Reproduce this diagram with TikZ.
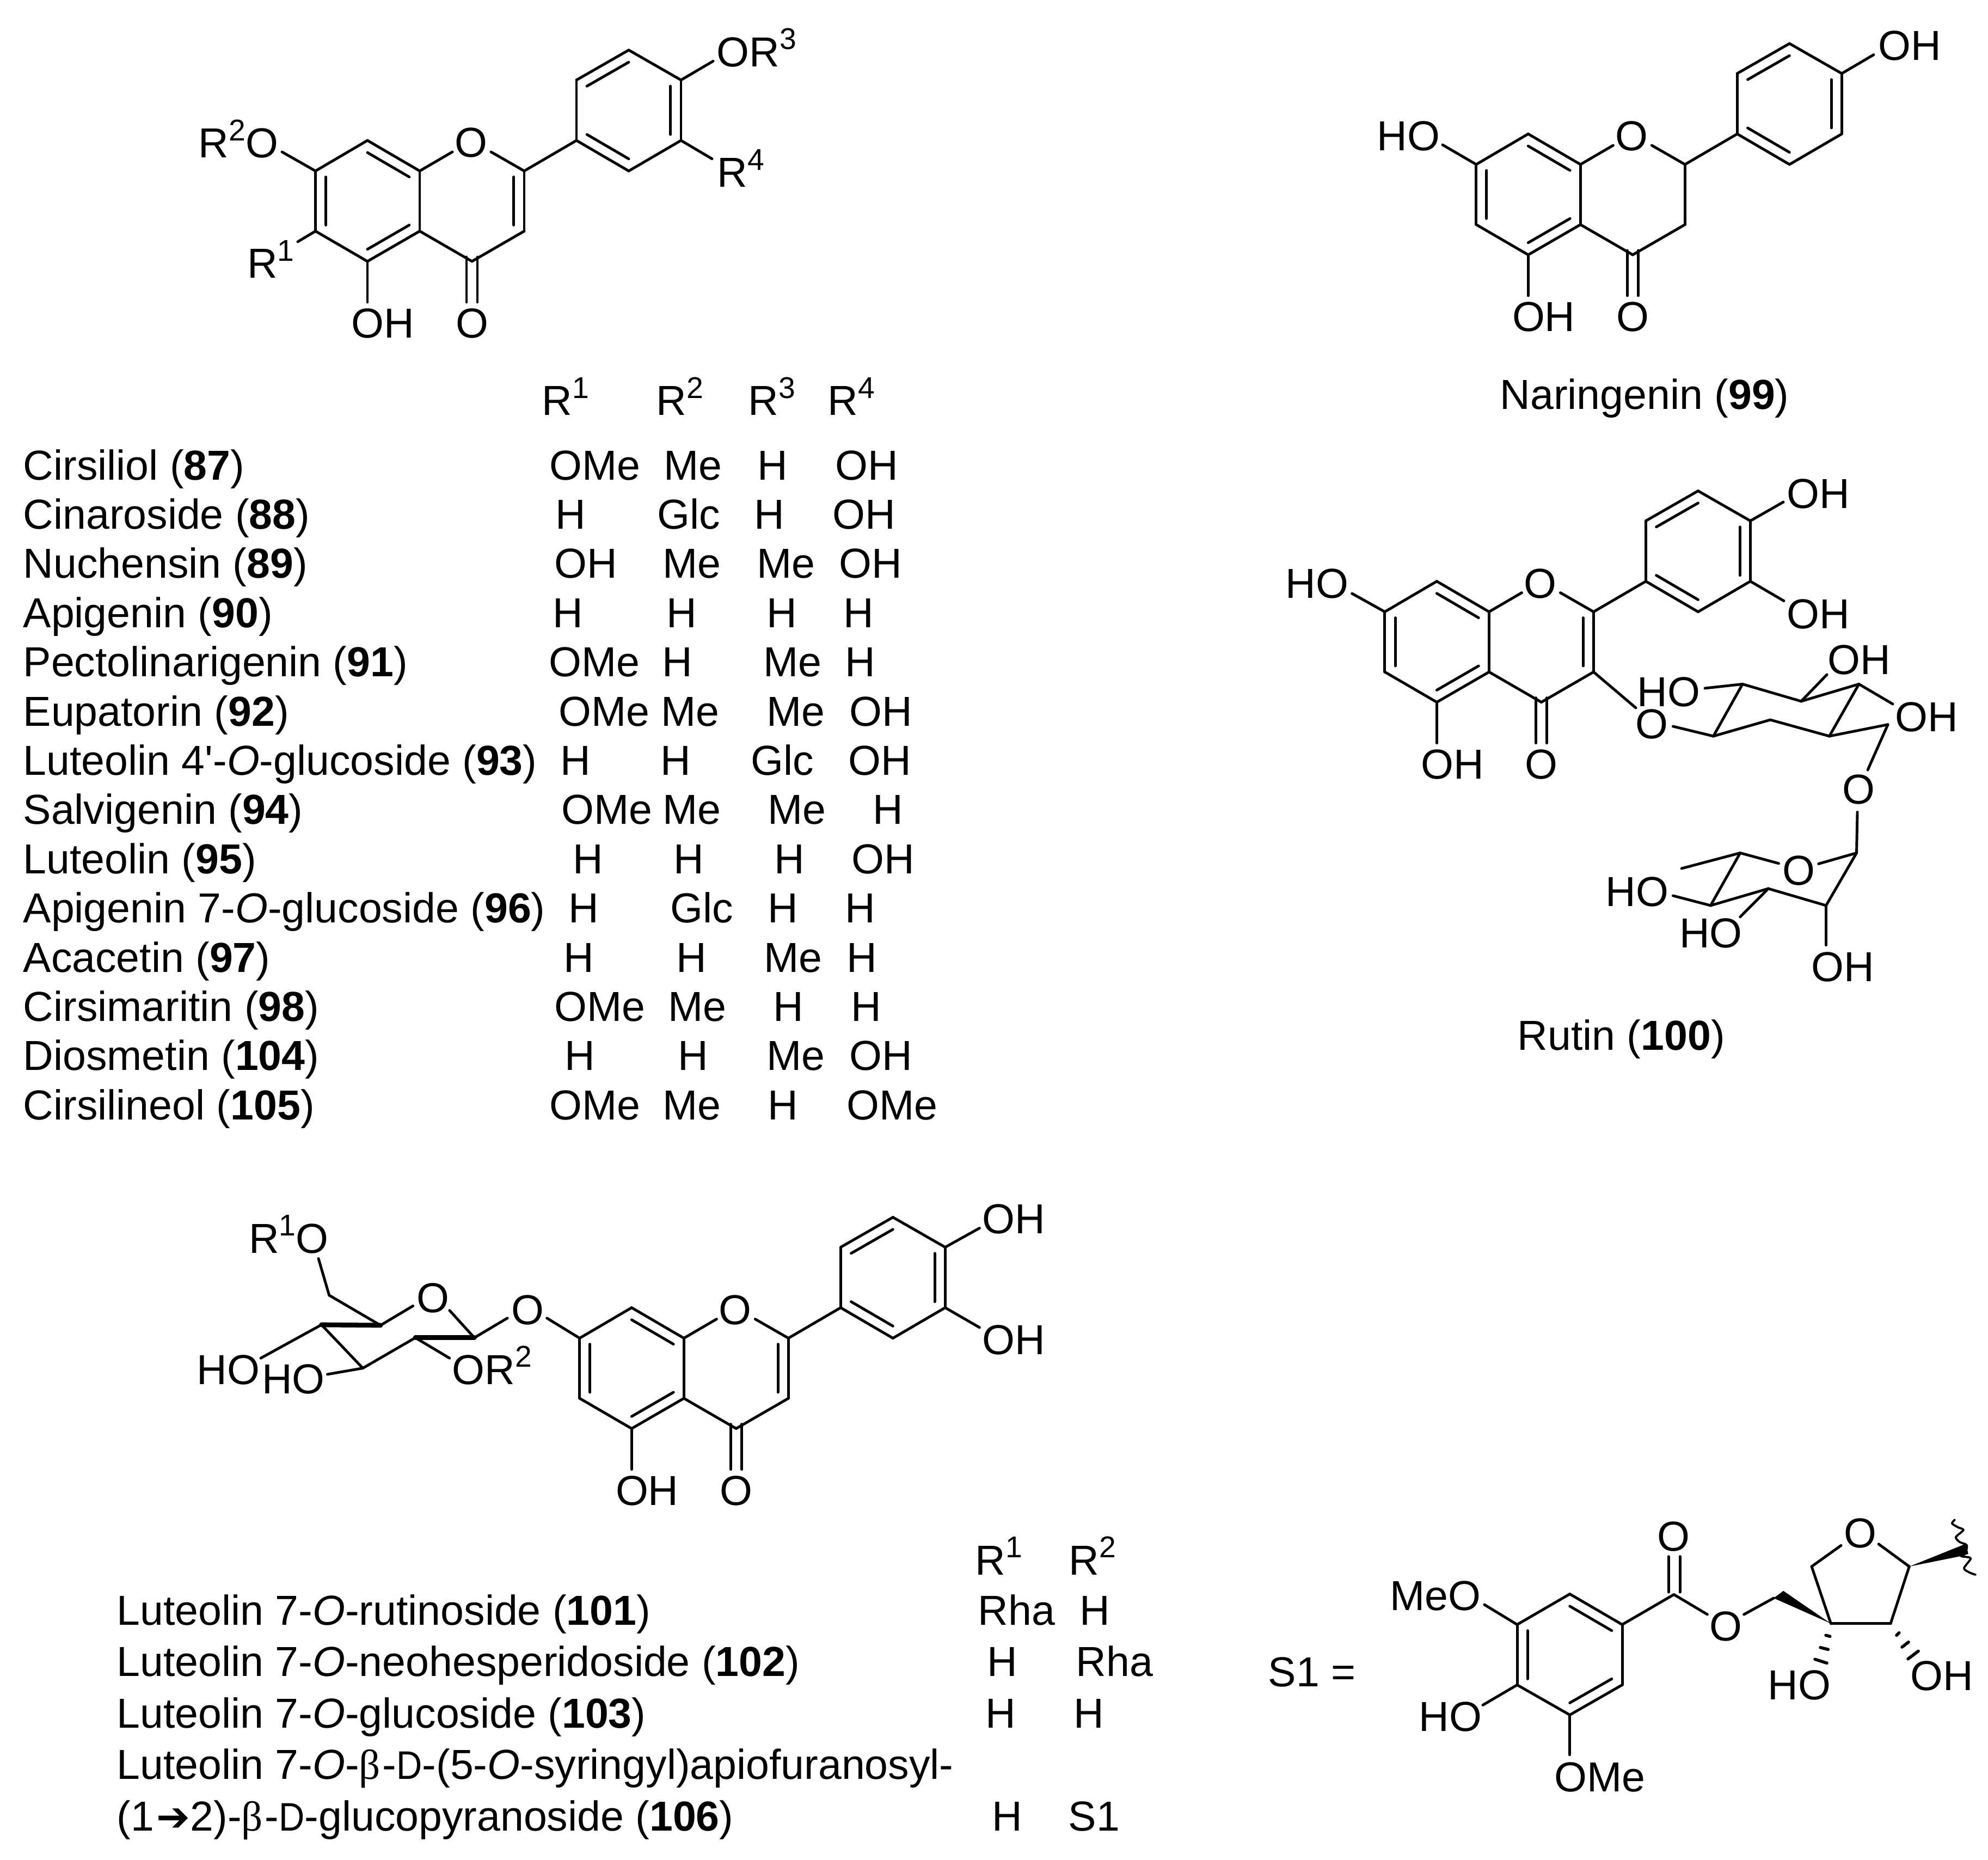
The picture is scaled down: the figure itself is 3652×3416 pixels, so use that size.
\documentclass[tikz,border=0pt]{standalone}
\usepackage{fontspec}
\setmainfont{Liberation Sans}[Ligatures=TeXOff]
\newfontfamily\greekfont{Liberation Serif}
\newfontfamily\arrowfont{DejaVu Sans}
\usetikzlibrary{calc}

\newcommand{\supr}[1]{\raisebox{0.415em}{\fontsize{15.7}{15}\selectfont #1}}
\newcommand{\bet}{{\greekfont β}\kern0.05em}
\newcommand{\smD}{\scalebox{0.85}[0.95]{D}}
\newcommand{\arr}{\kern0.06em{\arrowfont\fontsize{21}{26}\selectfont ➔}}

% double bond: outer line, and inner line pulled towards the ring centre
\newcommand{\dbl}[3]{
  \draw[bond] (#1) -- (#2);
  \draw[bond] ($(#1)!0.2!(#3)$) -- ($(#2)!0.2!(#3)$);
}

% flavone skeleton: prefix, then position of C8a (no C2-C3 bond)
\newcommand{\flavskel}[3]{
  \coordinate (#1c7) at (#2-191.5,#3);
  \coordinate (#1c8) at (#2-96,#3-56);
  \coordinate (#1c8a) at (#2,#3);
  \coordinate (#1c4a) at (#2,#3+110.5);
  \coordinate (#1c5) at (#2-96,#3+166);
  \coordinate (#1c6) at (#2-191.5,#3+110.5);
  \coordinate (#1c2) at (#2+192,#3);
  \coordinate (#1c3) at (#2+192,#3+110.5);
  \coordinate (#1c4) at (#2+96,#3+166);
  \coordinate (#1b1) at (#2+288,#3-56);
  \coordinate (#1b2) at (#2+288,#3-167);
  \coordinate (#1b3) at (#2+384,#3-222);
  \coordinate (#1b4) at (#2+480,#3-167);
  \coordinate (#1b5) at (#2+480,#3-56);
  \coordinate (#1b6) at (#2+384,#3);
  \coordinate (#1ra) at (#2-96,#3+55);
  \coordinate (#1rc) at (#2+96,#3+55);
  \coordinate (#1rb) at (#2+384,#3-111);
  \coordinate (#1oa) at (#2+60,#3-35);
  \coordinate (#1ob) at (#2+131,#3-35);
  \coordinate (#1oh5) at (#2-96,#3+241);
  \coordinate (#1dl1) at (#2+86,#3+158);
  \coordinate (#1dl2) at (#2+86,#3+241);
  \coordinate (#1dr1) at (#2+106,#3+158);
  \coordinate (#1dr2) at (#2+106,#3+241);
  \node[atomO] (#1o1) at (#2+94.5,#3-25) {O};
  \node[atomO] (#1o4) at (#2+96,#3+307) {O};
  \node (#1lab5) at (#2-126,#3+307) {OH};
  \dbl{#1c7}{#1c6}{#1ra}
  \dbl{#1c8}{#1c8a}{#1ra}
  \dbl{#1c4a}{#1c5}{#1ra}
  \dbl{#1b2}{#1b3}{#1rb}
  \dbl{#1b4}{#1b5}{#1rb}
  \dbl{#1b1}{#1b6}{#1rb}
  \foreach \p/\q in {c7/c8,c8a/c4a,c5/c6,c4a/c4,c4/c3,c2/b1,b1/b2,b3/b4,b5/b6,c8a/oa,ob/c2,c5/oh5,dl1/dl2,dr1/dr2}
    \draw[bond] (#1\p) -- (#1\q);
}

\begin{document}
\begin{tikzpicture}[
  x=0.01cm, y=-0.01cm,
  every node/.style={font=\fontsize{21.9}{26}\selectfont, inner sep=0pt, anchor=base west},
  atomO/.style={anchor=base},
  bond/.style={line width=1.4pt, line cap=round, line join=round},
  boldbond/.style={line width=2.5pt, line cap=round},
  hashbond/.style={line width=1.6pt, line cap=round},
  squiggle/.style={line width=1.1pt, line cap=round}
]
\useasboundingbox (0,0) rectangle (3652,3416);

% Generic flavone
\flavskel{a}{771}{314}
\dbl{ac2}{ac3}{arc}
\node (r2o) at (364,290) {R\supr{2}O};
\node (r1) at (453.5,511) {R\supr{1}};
\node (or3) at (1316,122.7) {OR\supr{3}};
\node (r4) at (1317,344) {R\supr{4}};
\coordinate (r2oend) at (518,279);
\coordinate (r1end) at (547,444);
\coordinate (or3end) at (1310,112.3);
\coordinate (r4end) at (1308,291.7);
\draw[bond] (ac7) -- (r2oend);
\draw[bond] (ac6) -- (r1end);
\draw[bond] (ab4) -- (or3end);
\draw[bond] (ab5) -- (r4end);

% Table of 87-98, 104, 105
\foreach \hx/\hn [count=\i] in {995/1,1205/2,1374/3,1520/4}
  \node (hdr\i) at (\hx,763) {R\supr{\hn}};
\foreach \nm/\xa/\ta/\xb/\tb/\xc/\tc/\xd/\td [count=\i from 0] in {
  {Cirsiliol (\textbf{87})}/1009/OMe/1219/Me/1391/H/1534/OH,
  {Cinaroside (\textbf{88})}/1020/H/1207/Glc/1385/H/1529/OH,
  {Nuchensin (\textbf{89})}/1018/OH/1217/Me/1390/Me/1541/OH,
  {Apigenin (\textbf{90})}/1015/H/1224/H/1408/H/1549/H,
  {Pectolinarigenin (\textbf{91})}/1008/OMe/1216/H/1402/Me/1552/H,
  {Eupatorin (\textbf{92})}/1026/OMe/1214/Me/1408/Me/1560/OH,
  {Luteolin 4'-\textit{O}-glucoside (\textbf{93})}/1029/H/1213/H/1379/Glc/1558/OH,
  {Salvigenin (\textbf{94})}/1031/OMe/1217/Me/1410/Me/1603/H,
  {Luteolin (\textbf{95})}/1052/H/1237/H/1422/H/1564/OH,
  {Apigenin 7-\textit{O}-glucoside (\textbf{96})}/1044/H/1231/Glc/1410/H/1552/H,
  {Acacetin (\textbf{97})}/1035/H/1242/H/1403/Me/1555/H,
  {Cirsimaritin (\textbf{98})}/1018/OMe/1227/Me/1420/H/1563/H,
  {Diosmetin (\textbf{104})}/1037/H/1245/H/1408/Me/1560/OH,
  {Cirsilineol (\textbf{105})}/1009/OMe/1217/Me/1410/H/1555/OMe
} {
  \pgfmathsetmacro{\rowy}{881+90.4*\i}
  \node (nm\i) at (42,\rowy) {\nm};
  \node (ra\i) at (\xa,\rowy) {\ta};
  \node (rb\i) at (\xb,\rowy) {\tb};
  \node (rc\i) at (\xc,\rowy) {\tc};
  \node (rd\i) at (\xd,\rowy) {\td};
}

% Naringenin
\flavskel{n}{2903.3}{302}
\draw[bond] (nc2) -- (nc3);
\node (nho) at (2529,277) {HO};
\node (noh) at (3450,111) {OH};
\coordinate (nhoend) at (2650,266);
\coordinate (nohend) at (3442,100.5);
\draw[bond] (nc7) -- (nhoend);
\draw[bond] (nb4) -- (nohend);
\node (ncap) at (2755,752) {Naringenin (\textbf{99})};

% Rutin
\flavskel{r}{2735.4}{1123.6}
\dbl{rc2}{rc3}{rrc}
\node (rho7) at (2361,1098.6) {HO};
\node (roh4) at (3282,933) {OH};
\node (roh3) at (3282,1154) {OH};
\coordinate (rho7end) at (2483.6,1090);
\coordinate (roh4end) at (3276,922);
\coordinate (roh3end) at (3277,1103.6);
\draw[bond] (rc7) -- (rho7end);
\draw[bond] (rb4) -- (roh4end);
\draw[bond] (rb5) -- (roh3end);
% first sugar
\node[atomO] (rlink) at (3034,1356) {O};
\coordinate (rlink1) at (3005,1300);
\coordinate (rlink2) at (3073.4,1334);
\coordinate (su1) at (3147.5,1352);
\coordinate (su2) at (3201,1256.4);
\coordinate (su3) at (3308.8,1287.9);
\coordinate (su4) at (3414.8,1256.4);
\coordinate (su5) at (3360.5,1352);
\coordinate (su6) at (3252,1322);
\coordinate (su7) at (3468,1330.7);
\coordinate (suho2) at (3132,1264);
\coordinate (suoh3) at (3356,1239);
\coordinate (suoh4) at (3477,1293);
\coordinate (suo) at (3431,1414);
\node (suhol) at (3007,1297) {HO};
\node (suohl) at (3357,1238) {OH};
\node (suohr) at (3481,1343) {OH};
\node[atomO] (rbridge) at (3414,1476) {O};
\foreach \p/\q in {rc3/rlink1,rlink2/su1,su1/su2,su2/su3,su3/su4,su4/su5,su5/su6,su6/su1,su2/suho2,su3/suoh3,su4/suoh4,su5/su7,su7/suo}
  \draw[bond] (\p) -- (\q);
% second sugar
\coordinate (rbr) at (3412,1491.4);
\coordinate (sv1) at (3410.5,1566.5);
\coordinate (sva) at (3340.7,1586.4);
\coordinate (svb) at (3267.4,1585.7);
\coordinate (sv2) at (3196.7,1566.5);
\coordinate (svme) at (3089,1595);
\coordinate (sv3) at (3142.4,1663);
\coordinate (sv4) at (3248.4,1632);
\coordinate (sv5) at (3354.5,1663);
\coordinate (svoh) at (3354.5,1735.7);
\coordinate (svho3) at (3073.4,1645);
\coordinate (svho4) at (3196.7,1684);
\node[atomO] (rring) at (3304.5,1625.7) {O};
\node (svohl) at (3327,1802) {OH};
\node (svhol) at (2949,1664) {HO};
\node (svhom) at (3084.6,1740) {HO};
\foreach \p/\q in {rbr/sv1,sv1/sva,svb/sv2,sv2/svme,sv2/sv3,sv3/sv4,sv4/sv5,sv5/sv1,sv5/svoh,sv3/svho3,sv4/svho4}
  \draw[bond] (\p) -- (\q);
\node (rcap) at (2787,1928) {Rutin (\textbf{100})};

% Luteolin glycoside
\flavskel{g}{1256.3}{2457.6}
\dbl{gc2}{gc3}{grc}
\node (goh4) at (1804,2265.7) {OH};
\node (goh3) at (1804,2487) {OH};
\coordinate (goh4end) at (1799.4,2255.5);
\coordinate (goh3end) at (1799.4,2438);
\draw[bond] (gb4) -- (goh4end);
\draw[bond] (gb5) -- (goh3end);
\node (gr1o) at (456.6,2301) {R\supr{1}O};
\node (ghol) at (361,2542) {HO};
\node (ghom) at (480.5,2559.6) {HO};
\node (gor2) at (830,2542) {OR\supr{2}};
\node[atomO] (gring) at (795.5,2410) {O};
\node[atomO] (glink) at (969,2432) {O};
\coordinate (gr1end) at (585,2311.4);
\coordinate (gm) at (604.7,2378.8);
\coordinate (gn) at (699,2434);
\coordinate (gq) at (590.6,2433);
\coordinate (gr) at (666.5,2512.7);
\coordinate (gs) at (763,2456.8);
\coordinate (gp) at (871.4,2456.8);
\coordinate (gringa) at (758.6,2398.4);
\coordinate (gringb) at (825.8,2406.6);
\coordinate (glinka) at (932,2420.8);
\coordinate (glinkb) at (1004.7,2420.8);
\coordinate (gholend) at (479,2494.3);
\coordinate (ghomend) at (601.4,2524);
\coordinate (gor2end) at (825.8,2494.3);
\foreach \p/\q in {gr1end/gm,gm/gn,gn/gringa,gringb/gp,gp/glinka,glinkb/gc7,gq/gr,gr/gs,gq/gholend,gr/ghomend,gs/gor2end}
  \draw[bond] (\p) -- (\q);
\draw[boldbond] (gq) -- (gn);
\draw[boldbond] (gs) -- (gp);

% Table of 101-103, 106
\node (lhdr1) at (1791,2892) {R\supr{1}};
\node (lhdr2) at (1963,2892) {R\supr{2}};
\node (lnm0) at (214,2984) {Luteolin 7-\textit{O}-rutinoside (\textbf{101})};
\node (lnm1) at (214,3078) {Luteolin 7-\textit{O}-neohesperidoside (\textbf{102})};
\node (lnm2) at (214,3173) {Luteolin 7-\textit{O}-glucoside (\textbf{103})};
\node (lnm3) at (214,3267.6) {Luteolin 7-\textit{O}-\bet-\smD-(5-\textit{O}-syringyl)apiofuranosyl-};
\node (lnm4) at (214,3362.6) {(1\arr2)-\bet-\smD-glucopyranoside (\textbf{106})};
\foreach \xa/\ta/\xb/\tb/\rowy [count=\i] in {1796/Rha/1983/H/2984,1813/H/1976/Rha/3078,1810/H/1972/H/3173,1822/H/1962/S1/3362.6} {
  \node (la\i) at (\xa,\rowy) {\ta};
  \node (lb\i) at (\xb,\rowy) {\tb};
}

% S1 group
\node (s1eq) at (2329,3097) {S1 =};
\coordinate (t1) at (2787,2983.6);
\coordinate (t2) at (2883.7,2927.5);
\coordinate (t3) at (2980,2983.6);
\coordinate (t4) at (2980,3094.4);
\coordinate (t5) at (2883.7,3149.5);
\coordinate (t6) at (2787,3094.4);
\coordinate (tc) at (2883.7,3039);
\dbl{t2}{t3}{tc}
\dbl{t6}{t1}{tc}
\dbl{t4}{t5}{tc}
\node (smeo) at (2552.7,2957.7) {MeO};
\node (sho) at (2606,3179.7) {HO};
\node (some) at (2855,3290.5) {OMe};
\node[atomO] (sco) at (3074,2848) {O};
\node[atomO] (sest) at (3170,3013.7) {O};
\node[atomO] (sfur) at (3417.4,2842.6) {O};
\node (sho3) at (3246.7,3121.5) {HO};
\node (soh2) at (3509,3104) {OH};
\coordinate (smeoend) at (2726.8,2947);
\coordinate (shoend) at (2724,3131.4);
\coordinate (someend) at (2883.7,3222.8);
\coordinate (cc) at (3075,2928.4);
\coordinate (cl1) at (3065,2924);
\coordinate (cl2) at (3065,2858.6);
\coordinate (cr1) at (3086,2924);
\coordinate (cr2) at (3086,2858.6);
\coordinate (este) at (3136.4,2965);
\coordinate (estf) at (3203.6,2965);
\coordinate (ch2) at (3258.3,2935);
\coordinate (ch2b) at (3276,2921.7);
\coordinate (fv) at (3363.3,2981.7);
\coordinate (fw) at (3328,2877);
\coordinate (fy) at (3473,2981.7);
\coordinate (fx) at (3507.3,2877);
\coordinate (fo1) at (3382,2838.3);
\coordinate (fo2) at (3451,2835.7);
\foreach \p/\q in {t1/t2,t3/t4,t5/t6,t1/smeoend,t6/shoend,t5/someend,t3/cc,cl1/cl2,cr1/cr2,cc/este,estf/ch2,fv/fw,fw/fo1,fo2/fx,fx/fy,fy/fv}
  \draw[bond] (\p) -- (\q);
% wedges
\fill (ch2) -- (ch2b) -- (fv) -- cycle;
\fill (fx) -- (3611.7,2835) -- (3615.7,2854) -- (3601.7,2858) -- cycle;
% hashed bonds
\draw[hashbond] (3354,3003.3) -- (3361.7,3005.3);
\draw[hashbond] (3344,3025.7) -- (3358.3,3029.3);
\draw[hashbond] (3334,3047.3) -- (3356,3054.3);
\draw[hashbond] (3484,3003.3) -- (3488.7,2998.7);
\draw[hashbond] (3494,3025) -- (3506,3015.7);
\draw[hashbond] (3505,3046.7) -- (3524,3032.3);
% attachment point
\draw[squiggle] plot[smooth] coordinates {(3591,2791) (3586,2798) (3597,2805) (3606.7,2810) (3593,2823) (3600,2832) (3613,2838) (3610,2853) (3603,2858) (3620,2862) (3608,2880) (3618,2888) (3629,2892)};

\end{tikzpicture}
\end{document}
